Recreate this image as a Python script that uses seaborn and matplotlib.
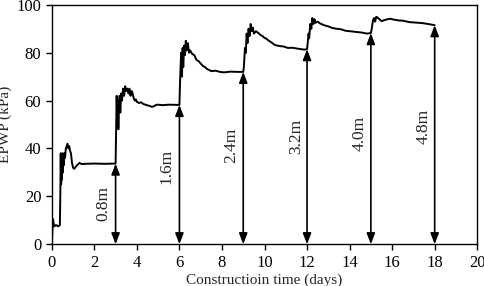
# ============================================================================
# IMPORTS
# ============================================================================

import pandas as pd

import matplotlib
matplotlib.use('Agg')
import matplotlib.pyplot as plt
import seaborn as sns

# ============================================================================
# DATA
# ============================================================================

# construction time (days)
time_days = [
    0, 0.03, 0.06, 0.08, 0.12, 0.2, 0.3, 0.38, 0.40, 0.42, 0.44, 0.46, 0.48,
    0.50, 0.52, 0.54, 0.56, 0.58, 0.62, 0.66, 0.70, 0.74, 0.78, 0.82, 0.86,
    0.90, 0.95, 1.00, 1.05, 1.10, 1.18, 1.25, 1.30, 1.40, 1.6, 2.0, 2.5, 3.0,
    3.02, 3.05, 3.08, 3.10, 3.13, 3.16, 3.19, 3.22, 3.26, 3.30, 3.35, 3.40,
    3.45, 3.50, 3.55, 3.60, 3.65, 3.70, 3.75, 3.80, 3.85, 3.90, 3.95, 4.0,
    4.1, 4.2, 4.3, 4.4, 4.5, 4.6, 4.7, 4.8, 4.9, 5.0, 5.2, 5.5, 6.0,
    6.03, 6.08, 6.12, 6.15, 6.18, 6.22, 6.26, 6.30, 6.35, 6.40, 6.45, 6.5,
    6.6, 6.7, 6.8, 6.9, 7.0, 7.1, 7.2, 7.3, 7.4, 7.5, 7.7, 7.9, 8.1, 8.4,
    8.7, 9.0,
    9.03, 9.08, 9.12, 9.16, 9.2, 9.25, 9.3, 9.35, 9.4, 9.45, 9.5, 9.6, 9.7,
    9.8, 9.9, 10.0, 10.1, 10.2, 10.3, 10.4, 10.5, 10.7, 10.9, 11.1, 11.3,
    11.5, 11.7, 11.9, 12.0,
    12.03, 12.07, 12.1, 12.15, 12.2, 12.25, 12.3, 12.35, 12.4, 12.5, 12.6,
    12.8, 13.0, 13.2, 13.4, 13.6, 13.8, 14.0, 14.2, 14.4, 14.6, 14.8, 15.0,
    15.04, 15.1, 15.15, 15.2, 15.25, 15.3, 15.4, 15.5, 15.7, 15.9, 16.1,
    16.3, 16.5, 16.8, 17.1, 17.4, 17.7, 18.0,
]

# excess pore water pressure (kPa)
epwp_kpa = [
    0, 6, 10.5, 9, 7.5, 8, 7.5, 8, 20, 38, 25, 36, 27,
    38, 30, 37, 33, 38, 36, 40, 41, 42, 40, 41, 39,
    38, 34, 32, 31.5, 32, 33, 33.5, 34, 33.5, 33.6, 33.7, 33.6, 33.7,
    45, 62, 50, 60, 48, 58, 62, 55, 63, 60, 65, 62,
    66, 64, 65, 63, 65, 62, 64, 63, 61, 60, 60.5, 59.5,
    59, 59.3, 58.6, 58.3, 58, 57.8, 57.4, 57.6, 58.2, 58.3, 58.1, 58.3, 58.2,
    68, 80, 70, 82, 74, 83, 79, 85, 81, 84, 80, 81,
    79.5, 79, 77, 76.5, 75.5, 74.5, 74, 73.2, 72.8, 72.3, 72.5, 72, 71.8, 72.1,
    72, 72,
    74, 82, 80, 88, 84, 90, 87, 92, 89, 90.5, 88, 89, 88.3,
    87.5, 87, 86.2, 85.8, 85, 84.5, 83.8, 83.2, 82.8, 82.6, 82, 82.1,
    81.8, 81.5, 81.3, 81.5,
    84, 88, 86, 92, 90, 94.5, 92, 94, 92.5, 93, 92.3,
    91.5, 91, 90.3, 90, 89.8, 89.2, 89, 88.8, 88.6, 88.4, 88.0, 88.2,
    90, 93.5, 94.5, 93, 95, 94.8, 94, 93.2, 93.8, 94.2, 93.8,
    93.5, 93.4, 92.8, 92.6, 92.4, 92.0, 91.5,
]

# filling stages: time, EPWP at the end of the stage, embankment height
stage_days = [3, 6, 9, 12, 15, 18]
stage_epwp = [33.7, 58.2, 72, 81.5, 88.2, 91.5]
stage_labels = ['0.8m', '1.6m', '2.4m', '3.2m', '4.0m', '4.8m']
label_x = [2.41, 5.41, 8.43, 11.49, 14.46, 17.5]
label_y = [17.2, 32.5, 41.5, 45, 46.4, 49.2]

df = pd.DataFrame({'time': time_days, 'epwp': epwp_kpa})

# ============================================================================
# PLOT
# ============================================================================
sns.set_style('ticks')
plt.rcParams['font.family'] = ['Liberation Serif', 'DejaVu Serif']

fig, ax = plt.subplots(figsize=(4.84, 2.86), dpi=100)
fig.subplots_adjust(left=0.107, right=0.986, top=0.983, bottom=0.146)

sns.lineplot(x='time', y='epwp', data=df, sort=False, estimator=None,
             color='black', linewidth=1.4, ax=ax)

for x, y, lab, lx, ly in zip(stage_days, stage_epwp, stage_labels, label_x, label_y):
    ax.annotate('', xy=(x, 0), xytext=(x, y),
                arrowprops=dict(arrowstyle='<|-|>,head_length=0.65,head_width=0.25',
                                color='black', lw=1.2,
                                mutation_scale=10, shrinkA=0, shrinkB=0))
    ax.text(lx, ly, lab, rotation=90, ha='center', va='center', fontsize=12.5)

ax.set(xlim=(0, 20), ylim=(0, 100))
ax.set_xticks(range(0, 21, 2))
ax.set_yticks(range(0, 101, 20))
ax.set_xlabel('Constructioin time (days)', fontsize=11, labelpad=2)
ax.set_ylabel('EPWP (kPa)', fontsize=11, labelpad=3)
ax.tick_params(labelsize=12, length=4, width=1, color='black', labelcolor='black')
for s in ax.spines.values():
    s.set_color('black')
    s.set_linewidth(1.0)

plt.savefig('out.png', dpi=100)
